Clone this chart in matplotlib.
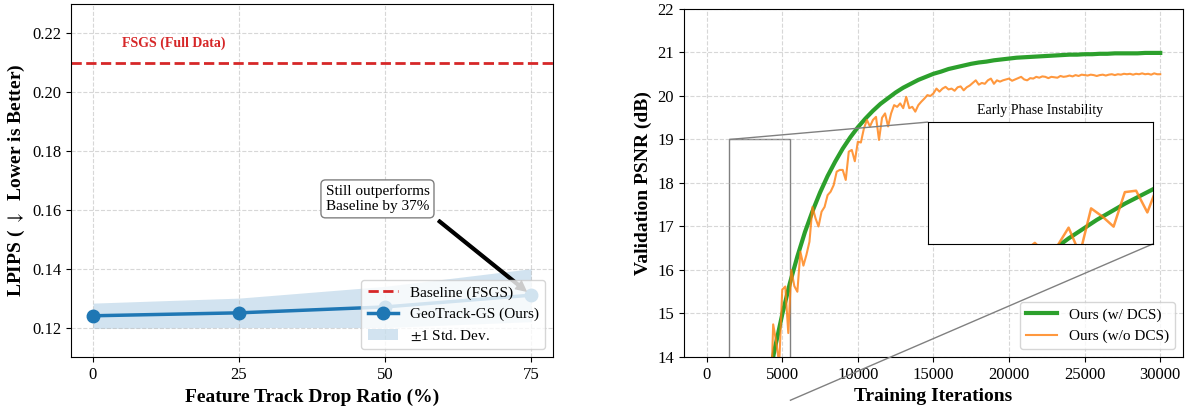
import matplotlib
matplotlib.use("Agg")
import matplotlib.pyplot as plt
from mpl_toolkits.axes_grid1.inset_locator import mark_inset

plt.rcParams['font.family'] = ['Liberation Serif', 'DejaVu Serif']
plt.rcParams['mathtext.fontset'] = 'stix'

# ---------------- Left panel data ----------------
drop_ratio = [0, 25, 50, 75]
lpips_mean = [0.124, 0.125, 0.127, 0.131]
lpips_std = [0.0043, 0.0050, 0.0070, 0.0090]
baseline_lpips = 0.21
drop_ticks = [0, 25, 50, 75]
lpips_ticks = [0.12, 0.14, 0.16, 0.18, 0.20, 0.22]

# ---------------- Right panel data ----------------
iters_dcs = list(range(0, 30001, 500))
psnr_dcs = [0.00, 2.47, 4.64, 6.57, 8.26, 9.76, 11.08, 12.24, 13.27, 14.18,
            14.98, 15.69, 16.31, 16.87, 17.35, 17.78, 18.16, 18.49, 18.79, 19.05,
            19.28, 19.48, 19.66, 19.82, 19.95, 20.08, 20.19, 20.28, 20.37, 20.44,
            20.51, 20.56, 20.62, 20.66, 20.70, 20.74, 20.77, 20.79, 20.82, 20.84,
            20.86, 20.88, 20.89, 20.90, 20.91, 20.92, 20.93, 20.94, 20.95, 20.95,
            20.96, 20.96, 20.97, 20.97, 20.98, 20.98, 20.98, 20.98, 20.99, 20.99,
            20.99]

iters_nodcs = list(range(3000, 30001, 200))
psnr_nodcs = [12.00, 12.60, 13.05, 12.50, 12.90, 13.80, 12.50, 14.75, 14.35, 13.85,
              15.55, 15.62, 14.55, 16.00, 15.63, 15.50, 16.42, 16.10, 16.35, 16.65,
              17.45, 17.19, 17.00, 17.34, 17.45, 17.72, 17.80, 17.95, 18.26, 18.30,
              18.30, 18.07, 18.72, 18.76, 18.50, 18.95, 18.93, 19.25, 19.45, 19.30,
              19.45, 19.52, 18.99, 19.50, 19.60, 19.30, 19.60, 19.79, 19.75, 19.83,
              19.72, 19.98, 19.72, 19.75, 19.64, 19.79, 19.87, 19.94, 20.02, 20.00,
              20.06, 20.17, 20.10, 20.17, 20.21, 20.15, 20.17, 20.12, 20.20, 20.22,
              20.13, 20.20, 20.24, 20.30, 20.36, 20.26, 20.30, 20.28, 20.36, 20.40,
              20.28, 20.36, 20.33, 20.36, 20.38, 20.40, 20.35, 20.38, 20.41, 20.44,
              20.38, 20.36, 20.41, 20.40, 20.44, 20.42, 20.45, 20.44, 20.41, 20.44,
              20.43, 20.42, 20.46, 20.44, 20.45, 20.47, 20.45, 20.48, 20.46, 20.49,
              20.48, 20.47, 20.49, 20.48, 20.46, 20.48, 20.49, 20.47, 20.49, 20.50,
              20.48, 20.50, 20.49, 20.51, 20.50, 20.51, 20.49, 20.51, 20.50, 20.52,
              20.50, 20.51, 20.49, 20.52, 20.50, 20.50]
iter_ticks = [0, 5000, 10000, 15000, 20000, 25000, 30000]
psnr_ticks = [14, 15, 16, 17, 18, 19, 20, 21, 22]
inset_xlim = (1500, 5500)
inset_ylim = (13, 19)

fig = plt.figure(figsize=(11.86, 4.08), dpi=100)
ax1 = fig.add_axes([0.0599, 0.125, 0.4064, 0.866])
ax2 = fig.add_axes([0.5767, 0.125, 0.4207, 0.853])

blue = '#1f77b4'
red = '#d62728'
green = '#2ca02c'
orange = '#ff7f0e'

# ---------------- Left panel ----------------
lo = [m - s for m, s in zip(lpips_mean, lpips_std)]
hi = [m + s for m, s in zip(lpips_mean, lpips_std)]
ax1.axhline(baseline_lpips, color=red, ls='--', lw=2, label='Baseline (FSGS)')
ax1.plot(drop_ratio, lpips_mean, '-o', color=blue, lw=2.5, ms=9,
         label='GeoTrack-GS (Ours)')
ax1.fill_between(drop_ratio, lo, hi, color=blue, alpha=0.2, lw=0,
                 label=r'$\pm$1 Std. Dev.')
ax1.text(5, 0.2165, 'FSGS (Full Data)', color=red, fontweight='bold',
         fontsize=10, ha='left', va='center')
ax1.annotate('Still outperforms\nBaseline by 37%', xy=(75, 0.131),
             xytext=(48.7, 0.1637), textcoords='data', fontsize=11,
             ha='center', va='center',
             bbox=dict(boxstyle='round,pad=0.3', fc='white', ec='gray'),
             arrowprops=dict(facecolor='black', edgecolor='black', shrink=0.05,
                             width=2, headwidth=7, headlength=7))
ax1.set_ylim(0.11, 0.23)
ax1.set_xticks(drop_ticks)
ax1.set_yticks(lpips_ticks)
ax1.set_yticklabels([f'{v:.2f}' for v in lpips_ticks])
ax1.tick_params(labelsize=12)
ax1.set_xlabel('Feature Track Drop Ratio (%)', fontsize=14, fontweight='bold')
ax1.set_ylabel(r'LPIPS ( $\downarrow$  Lower is Better)', fontsize=14,
               fontweight='bold')
ax1.grid(True, ls='--', alpha=0.5)
ax1.legend(loc='lower right', fontsize=11, framealpha=0.8)

# ---------------- Right panel ----------------
ax2.plot(iters_dcs, psnr_dcs, color=green, lw=3, label='Ours (w/ DCS)')
ax2.plot(iters_nodcs, psnr_nodcs, color=orange, lw=1.5, alpha=0.8,
         label='Ours (w/o DCS)')
ax2.set_ylim(14, 22)
ax2.set_xlim(-1500, 31500)
ax2.set_xticks(iter_ticks)
ax2.set_yticks(psnr_ticks)
ax2.tick_params(labelsize=12)
ax2.set_xlabel('Training Iterations', fontsize=14, fontweight='bold')
ax2.set_ylabel('Validation PSNR (dB)', fontsize=14, fontweight='bold')
ax2.grid(True, ls='--', alpha=0.5)
ax2.legend(loc='lower right', fontsize=11)

axins = ax2.inset_axes([0.489, 0.325, 0.451, 0.35])
axins.plot(iters_dcs, psnr_dcs, color=green, lw=3)
axins.plot(iters_nodcs, psnr_nodcs, color=orange, lw=1.8, alpha=0.8)
axins.set_xlim(*inset_xlim)
axins.set_ylim(*inset_ylim)
axins.set_xticks([])
axins.set_yticks([])
axins.set_title('Early Phase Instability', fontsize=10)
mark_inset(ax2, axins, loc1=2, loc2=4, fc='none', ec='0.5')

fig.savefig('out.png', dpi=100)
